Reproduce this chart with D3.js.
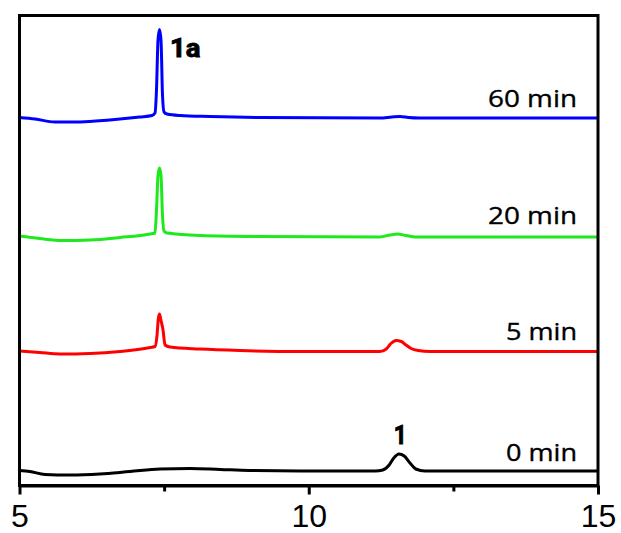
<!DOCTYPE html>
<html>
<head>
<meta charset="utf-8">
<script src="https://cdn.jsdelivr.net/npm/d3@7"></script>
<style>
  html, body { margin: 0; padding: 0; background: #fff; }
  svg { display: block; }
</style>
</head>
<body>
<svg id="chart" width="621" height="533"></svg>
<script>
// Retention time (min) vs detector signal (a.u., traces stacked)
const trace0min = [
  [5.00,15],[5.18,14],[5.44,11],[5.87,10.5],[6.39,11.5],[6.91,14],[7.43,16.5],[7.95,17],
  [8.47,16],[8.98,15],[9.85,14.5],[11.15,14.5],[11.28,15.5],[11.39,20.5],[11.47,27.5],
  [11.56,31.5],[11.65,29.5],[11.75,22.5],[11.85,16.5],[12.01,14.5],[13.31,14.5],[15.00,14.5]
];
const trace5min = [
  [5.00,134.5],[5.35,133],[5.70,131.5],[6.22,132],[6.74,134],[7.26,138],[7.342,139],
  [7.377,150],[7.40,167],[7.42,171.5],[7.446,165],[7.481,155.5],[7.515,140.5],[7.60,138.5],
  [8.12,136.5],[8.81,135],[9.85,134],[11.23,134],[11.34,136.5],[11.42,142],[11.51,145],
  [11.60,144],[11.68,140.5],[11.77,137],[11.89,135],[12.10,134],[15.00,134]
];
const trace20min = [
  [5.00,249.5],[5.35,247],[5.735,245],[6.22,245.5],[6.74,248],[7.256,251.5],[7.342,252.5],
  [7.368,275],[7.394,310],[7.42,317.5],[7.446,310],[7.472,270],[7.498,254.5],[7.55,252.5],
  [8.12,250],[9.16,249],[11.23,248.5],[11.405,250.5],[11.54,251.5],[11.68,250],[11.84,248.5],[15.00,248.5]
];
const trace60min = [
  [5.00,368],[5.27,366.5],[5.61,363.5],[6.05,363.5],[6.56,365.5],[7.08,368.5],[7.29,370],
  [7.342,372.5],[7.368,395.5],[7.394,445.5],[7.42,456],[7.446,445.5],[7.472,390.5],[7.498,373.5],
  [7.55,371.5],[7.775,370],[8.29,369],[9.16,368],[11.23,367.5],[11.44,368.5],[11.58,369],
  [11.72,368],[11.92,367.5],[15.00,367.5]
];
const traceNames = ["0 min", "5 min", "20 min", "60 min"];
const traceColors = ["#000000", "#ff0000", "#1ee81e", "#0000ff"];
const traceLabelValue = [25, 145.5, 262, 379];   // label baselines in signal units
const xMajorTicks = [5, 10, 15];
const xMinorTicks = [7.5, 12.5];
const peakLabels = [
  { text: "1a", x: 7.60, y: 428.8, anchor: "start", len: 30.5 },
  { text: "1",  x: 11.58, y: 41.5, anchor: "middle", len: 13 }
];

const traces = [trace0min, trace5min, trace20min, trace60min];

const svg = d3.select("#chart");
const L = 19.5, R = 598, T = 15.5, B = 485.5;

const x = d3.scaleLinear().domain([5, 15]).range([L, R]);
const y = d3.scaleLinear().domain([0, 470]).range([B, T]);

// traces
const line = d3.line()
  .x(d => x(d[0]))
  .y(d => y(d[1]))
  .curve(d3.curveMonotoneX);

svg.append("g").selectAll("path")
  .data(traces)
  .join("path")
  .attr("d", line)
  .attr("fill", "none")
  .attr("stroke", (d, i) => traceColors[i])
  .attr("stroke-width", 3)
  .attr("stroke-linejoin", "round");

// frame
svg.append("rect")
  .attr("x", L).attr("y", T)
  .attr("width", R - L).attr("height", B - T)
  .attr("fill", "none").attr("stroke", "#000").attr("stroke-width", 3);

// bottom axis: major
const axMajor = svg.append("g")
  .attr("transform", `translate(0,${B})`)
  .call(d3.axisBottom(x).tickValues(xMajorTicks).tickSize(9).tickSizeOuter(0).tickPadding(10).tickFormat(d3.format("d")));
axMajor.select(".domain").attr("stroke-width", 3);
axMajor.selectAll(".tick line").attr("stroke-width", 3);
axMajor.selectAll(".tick text")
  .attr("font-family", "'Liberation Sans', Arial, sans-serif")
  .attr("font-size", 32)
  .attr("fill", "#000")
  .attr("dy", "0.71em");

// minor ticks
const axMinor = svg.append("g")
  .attr("transform", `translate(0,${B})`)
  .call(d3.axisBottom(x).tickValues(xMinorTicks).tickSize(6).tickSizeOuter(0).tickFormat(""));
axMinor.select(".domain").remove();
axMinor.selectAll(".tick line").attr("stroke-width", 3);

// trace labels
const natW = { "0 min": 71, "5 min": 71, "20 min": 89, "60 min": 89 };
svg.append("g").selectAll("text")
  .data(traceNames)
  .join("text")
  .attr("x", 577)
  .attr("y", (d, i) => y(traceLabelValue[i]))
  .attr("text-anchor", "end")
  .attr("font-family", "'Open Sans', sans-serif")
  .attr("font-size", 23)
  .attr("fill", "#000")
  .attr("stroke", "#000")
  .attr("stroke-width", 0.35)
  .attr("textLength", d => natW[d])
  .attr("lengthAdjust", "spacingAndGlyphs")
  .text(d => d);

// peak labels
svg.append("g").selectAll("text")
  .data(peakLabels)
  .join("text")
  .attr("x", d => x(d.x))
  .attr("y", d => y(d.y))
  .attr("text-anchor", d => d.anchor)
  .attr("font-family", "Roboto, sans-serif")
  .attr("font-weight", "bold")
  .attr("font-size", 25)
  .attr("fill", "#000")
  .attr("stroke", "#000")
  .attr("stroke-width", 0.9)
  .attr("textLength", d => d.len)
  .attr("lengthAdjust", "spacingAndGlyphs")
  .text(d => d.text);
</script>
</body>
</html>
